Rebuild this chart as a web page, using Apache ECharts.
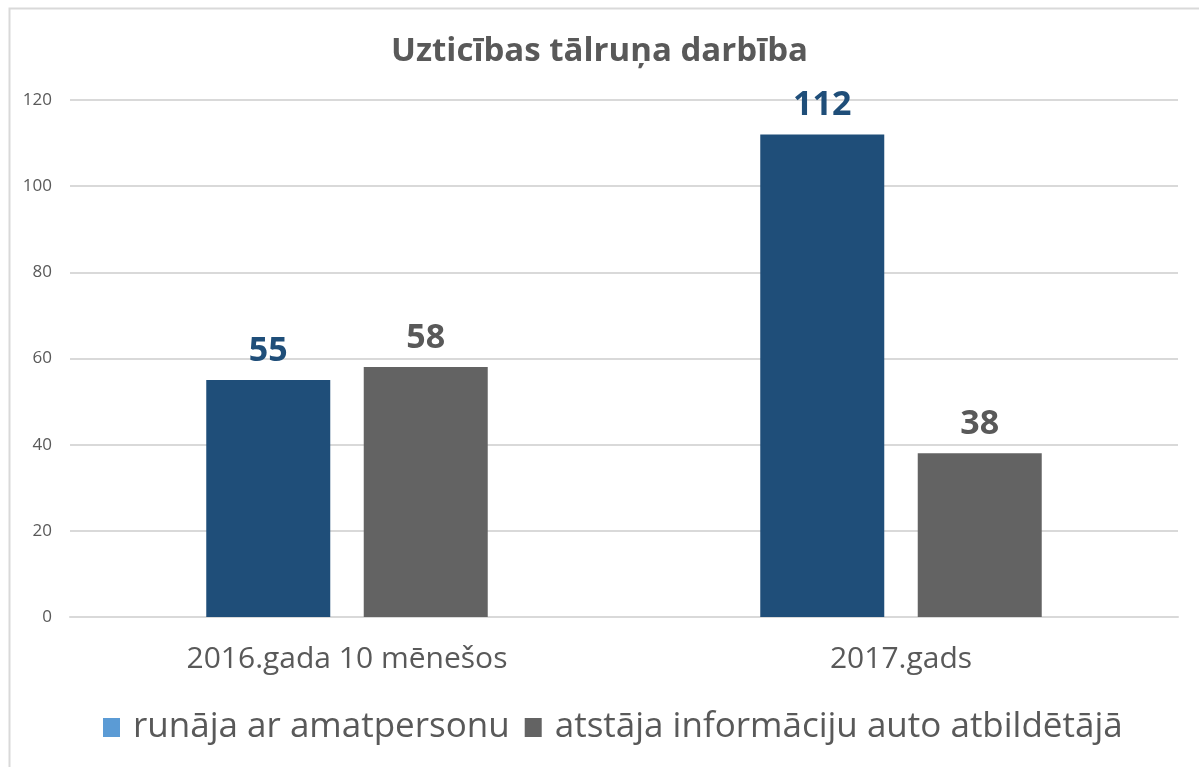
<!DOCTYPE html>
<html>
<head>
<meta charset="utf-8">
<script src="https://cdn.jsdelivr.net/npm/echarts@6/dist/echarts.min.js"></script>
<style>
  html, body { margin: 0; padding: 0; background: #fff; }
  #chart { width: 1199px; height: 767px; }
</style>
</head>
<body>
<div id="chart"></div>
<script>
const categories = ['2016.gada 10 mēnešos', '2017.gads'];
const seriesNames = ['runāja ar amatpersonu', 'atstāja informāciju auto atbildētājā'];
const talkedValues = [55, 112];
const leftValues = [58, 38];

const chart = echarts.init(document.getElementById('chart'));
const font = '"Open Sans", sans-serif';

chart.setOption({
  animation: false,
  title: {
    text: 'Uzticības tālruņa darbība',
    left: 'center',
    top: 30,
    textStyle: { fontFamily: font, fontSize: 33, fontWeight: 'bold', color: '#595959' }
  },
  graphic: [{
    type: 'rect',
    shape: { x: 9.5, y: 8.5, width: 1300, height: 900 },
    style: { fill: 'none', stroke: '#d9d9d9', lineWidth: 2 },
    silent: true
  }],
  grid: { left: 70, right: 21, top: 100, bottom: 150 },
  legend: {
    bottom: 17,
    left: 98,
    itemWidth: 17,
    itemHeight: 19,
    itemGap: 15,
    textStyle: { fontFamily: font, fontSize: 35, color: '#595959', padding: [0, 0, 0, 8] },
    data: [
      { name: seriesNames[0], icon: 'rect', itemStyle: { color: '#5b9bd5' } },
      { name: seriesNames[1], icon: 'rect', itemStyle: { color: '#636363' } }
    ]
  },
  xAxis: {
    type: 'category',
    data: categories,
    axisLine: { lineStyle: { color: '#d9d9d9', width: 2 } },
    axisTick: { show: false },
    axisLabel: { fontFamily: font, fontSize: 30, color: '#595959', margin: 27 }
  },
  yAxis: {
    type: 'value',
    min: 0,
    max: 120,
    interval: 20,
    axisLine: { show: false },
    axisTick: { show: false },
    splitLine: { lineStyle: { color: '#d9d9d9', width: 2 } },
    axisLabel: { fontFamily: font, fontSize: 17, color: '#595959', margin: 18 }
  },
  series: [
    {
      name: seriesNames[0],
      type: 'bar',
      data: talkedValues,
      barWidth: 124,
      barGap: '27%',
      itemStyle: { color: '#1f4e79' },
      label: {
        show: true, position: 'top', distance: 12,
        fontFamily: font, fontSize: 34, fontWeight: 'bold', color: '#1f4e79'
      }
    },
    {
      name: seriesNames[1],
      type: 'bar',
      data: leftValues,
      barWidth: 124,
      itemStyle: { color: '#636363' },
      label: {
        show: true, position: 'top', distance: 12,
        fontFamily: font, fontSize: 34, fontWeight: 'bold', color: '#595959'
      }
    }
  ]
});
</script>
</body>
</html>
